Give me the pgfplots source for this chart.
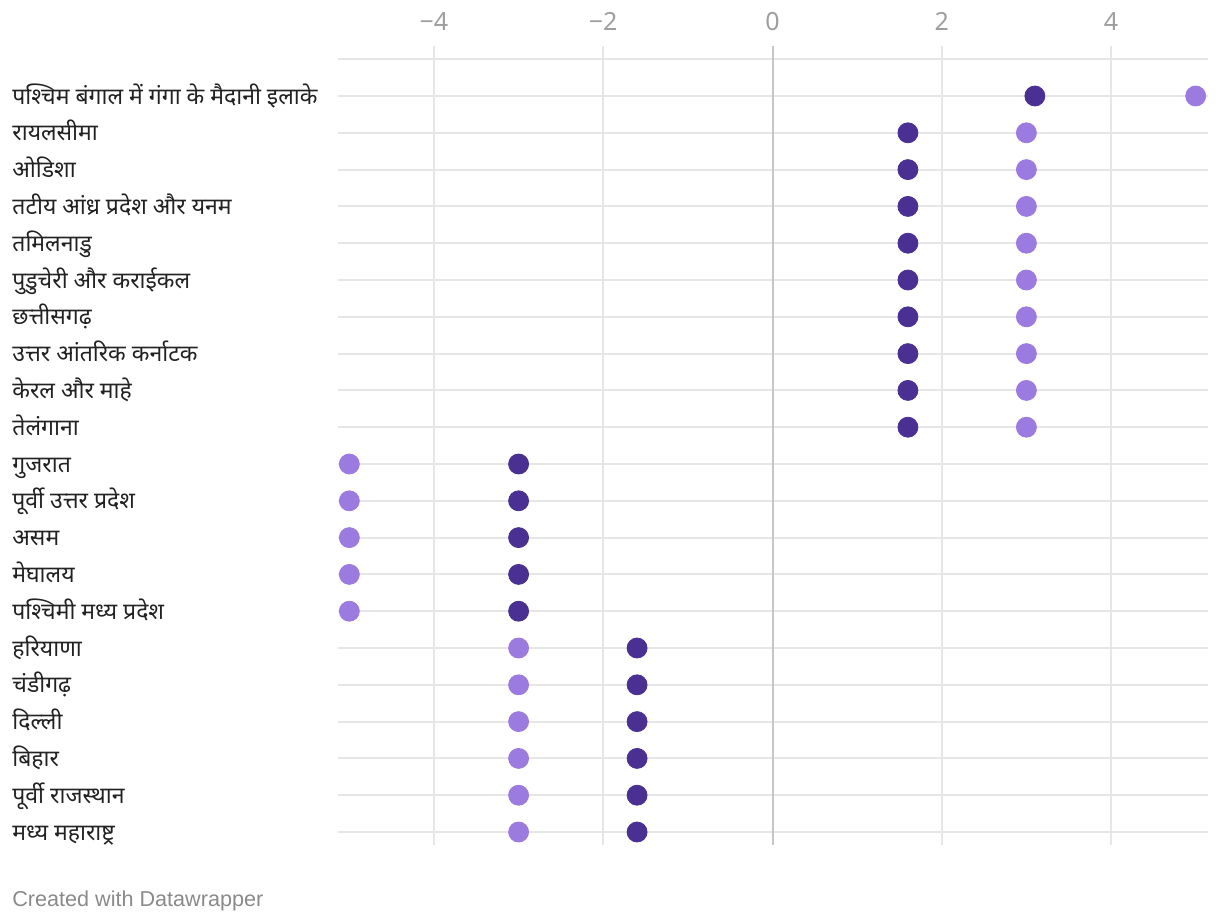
\documentclass[border=0pt]{standalone}
\usepackage{fontspec}
\usepackage{pgfplots}
\pgfplotsset{compat=1.18}
\setmainfont{Liberation Sans}
\newfontfamily\devfont[Script=Devanagari]{Noto Sans}
\newfontfamily\tickfont{Noto Sans}
\definecolor{dark}{HTML}{4B3093}
\definecolor{light}{HTML}{9B7BE0}
\definecolor{gridc}{HTML}{E6E6E6}
\definecolor{zeroc}{HTML}{C6C6C6}
\definecolor{tickc}{HTML}{9E9E9E}
\definecolor{labc}{HTML}{222222}
\definecolor{credc}{HTML}{8A8A8A}
\begin{document}
\begin{tikzpicture}
\useasboundingbox (0pt,0pt) rectangle (610pt,-462pt);
\begin{axis}[
  at={(169pt,-23pt)}, anchor=north west,
  scale only axis, width=434.75pt, height=399.5pt,
  xmin=-5.134, xmax=5.14,
  ymin=-1.359, ymax=20.353, y dir=reverse,
  axis line style={draw=none},
  major tick length=0pt,
  xtick={-4,-2,0,2,4},
  xticklabels={−4,−2,0,2,4},
  xticklabel pos=right,
  xticklabel style={font=\tickfont\fontsize{12.5}{14}\selectfont, text=tickc, yshift=4pt},
  ytick={0,...,20},
  extra y ticks={-1}, extra y tick labels={},
  yticklabels={
    पश्चिम बंगाल में गंगा के मैदानी इलाके,
    रायलसीमा,
    ओडिशा,
    तटीय आंध्र प्रदेश और यनम,
    तमिलनाडु,
    पुडुचेरी और कराईकल,
    छत्तीसगढ़,
    उत्तर आंतरिक कर्नाटक,
    केरल और माहे,
    तेलंगाना,
    गुजरात,
    पूर्वी उत्तर प्रदेश,
    असम,
    मेघालय,
    पश्चिमी मध्य प्रदेश,
    हरियाणा,
    चंडीगढ़,
    दिल्ली,
    बिहार,
    पूर्वी राजस्थान,
    मध्य महाराष्ट्र},
  yticklabel style={font=\devfont\fontsize{11.5}{13}\selectfont, text=labc, anchor=base west, inner sep=0pt, xshift=-163pt, yshift=-4pt},
  grid=major,
  major grid style={color=gridc, line width=1pt},
  clip=false,
]
\draw[color=zeroc, line width=1pt] (axis cs:0,-1.359) -- (axis cs:0,20.353);
% light series
\addplot[only marks, mark=*, mark size=5pt, color=light, mark options={draw=none, fill=light}] coordinates {
  (5.0,0) (3.0,1) (3.0,2) (3.0,3) (3.0,4) (3.0,5) (3.0,6) (3.0,7) (3.0,8) (3.0,9)
  (-5.0,10) (-5.0,11) (-5.0,12) (-5.0,13) (-5.0,14)
  (-3.0,15) (-3.0,16) (-3.0,17) (-3.0,18) (-3.0,19) (-3.0,20)
};
% dark series
\addplot[only marks, mark=*, mark size=5pt, color=dark, mark options={draw=none, fill=dark}] coordinates {
  (3.1,0) (1.6,1) (1.6,2) (1.6,3) (1.6,4) (1.6,5) (1.6,6) (1.6,7) (1.6,8) (1.6,9)
  (-3.0,10) (-3.0,11) (-3.0,12) (-3.0,13) (-3.0,14)
  (-1.6,15) (-1.6,16) (-1.6,17) (-1.6,18) (-1.6,19) (-1.6,20)
};
\end{axis}
\node[anchor=west, inner sep=0pt, text=credc, font=\fontsize{10.8}{12}\selectfont] at (6pt,-450.5pt) {Created with Datawrapper};
\end{tikzpicture}
\end{document}
